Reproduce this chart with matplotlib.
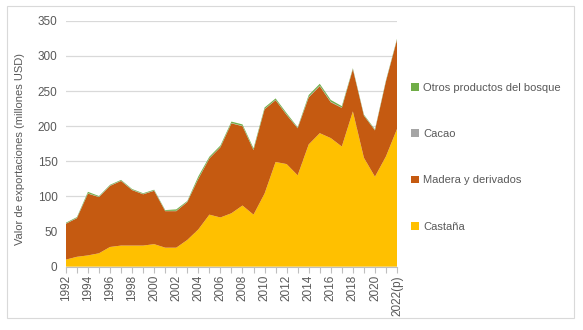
import numpy as np
import matplotlib.pyplot as plt
from matplotlib.patches import Rectangle

plt.rcParams['font.family'] = ['Liberation Sans', 'DejaVu Sans']

anios = [str(a) for a in range(1992, 2022)] + ['2022(p)']

castana = [10, 14, 16, 19, 28, 30, 30, 30, 32, 27, 27, 38, 53, 74, 70, 76,
           87, 74, 104, 149, 146, 130, 174, 190, 183, 171, 221, 155, 128, 157, 196]
madera = [51, 55, 88, 80, 87, 92, 79, 73, 76, 52, 52, 54, 72, 80, 100, 128,
          113, 92, 120, 88, 70, 67, 67, 67, 51, 55, 60, 60, 66, 107, 127]
cacao = [0.5, 0.5, 0.5, 0.5, 0.5, 0.5, 0.5, 0.5, 0.5, 0.5, 0.5, 0.5, 0.5, 0.5, 0.5, 0.5,
         0.5, 0.5, 0.5, 0.5, 0.5, 0.5, 0.8, 0.8, 0.8, 0.5, 0.5, 0.5, 0.5, 0.5, 0.5]
otros = [1, 1, 2, 1, 1, 1, 1, 1, 1, 1, 2, 1, 3, 2, 2, 2,
         2, 2, 2, 2, 2, 1, 2.5, 2.5, 2.5, 2, 1, 1, 1, 1, 1]

series = ['Castaña', 'Madera y derivados', 'Cacao', 'Otros productos del bosque']
colores = ['#FFC000', '#C55A11', '#A5A5A5', '#70AD47']
gris = '#595959'

fig = plt.figure(figsize=(5.83, 3.30), dpi=100)
ax = fig.add_axes([0.113, 0.192, 0.568, 0.745])

x = np.arange(len(anios))
ax.stackplot(x, castana, madera, cacao, otros, colors=colores,
             labels=series, linewidth=0)

ax.set_xlim(0, len(anios) - 1)
ax.set_ylim(0, 350)
ax.set_yticks(range(0, 351, 50))
ax.yaxis.grid(True, color='#D9D9D9', linewidth=0.9)
ax.set_axisbelow(True)

ax.set_xticks(x)
ax.set_xticklabels([a if i % 2 == 0 else '' for i, a in enumerate(anios)],
                   rotation=90)
ax.tick_params(axis='x', length=4, color='#BFBFBF', labelsize=8.5,
               labelcolor=gris, pad=2)
ax.tick_params(axis='y', length=0, labelsize=8.5, labelcolor=gris, pad=6)

for s in ['top', 'right', 'left']:
    ax.spines[s].set_visible(False)
ax.spines['bottom'].set_color('#BFBFBF')

ax.set_ylabel('Valor de exportaciones (millones USD)', fontsize=8,
              color=gris)
ax.yaxis.set_label_coords(-0.124, 0.479)

# leyenda con el orden invertido (la serie superior primero)
handles, labels = ax.get_legend_handles_labels()
fig.legend(handles[::-1], labels[::-1], loc='upper left',
           bbox_to_anchor=(0.688, 0.78), frameon=False, fontsize=8,
           labelcolor=gris, handlelength=0.7, handleheight=0.7,
           handletextpad=0.4, labelspacing=3.28)

fig.patches.append(Rectangle((0.012, 0.036), 0.973, 0.945, transform=fig.transFigure,
                             fill=False, edgecolor='#D9D9D9', linewidth=0.8))

fig.savefig('out.png', dpi=100)
